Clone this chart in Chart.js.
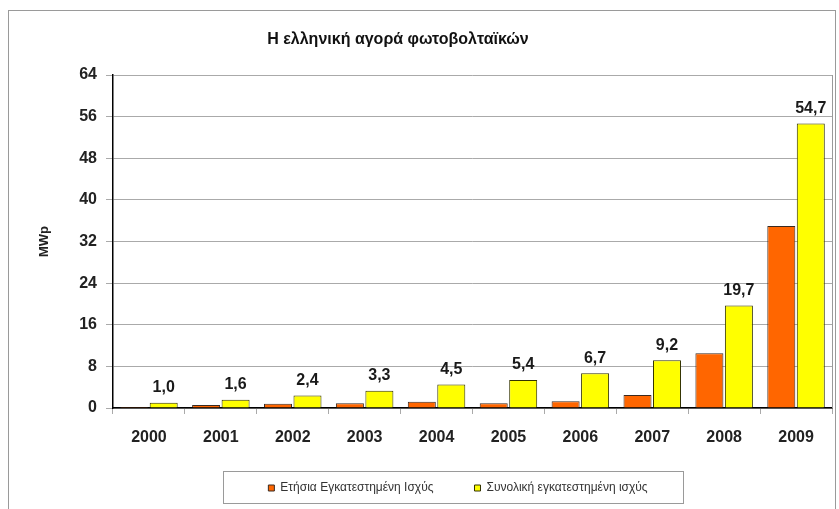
<!DOCTYPE html>
<html>
<head>
<meta charset="utf-8">
<script src="https://cdn.jsdelivr.net/npm/chart.js@4/dist/chart.umd.min.js"></script>
<style>
  html, body { margin: 0; padding: 0; background: #fff; }
  #wrap { width: 839px; height: 509px; position: relative; }
</style>
</head>
<body>
<div id="wrap"><canvas id="pv-chart"></canvas></div>
<script>
var years = ["2000", "2001", "2002", "2003", "2004", "2005", "2006", "2007", "2008", "2009"];
var annual = [0.2, 0.6, 0.8, 0.9, 1.2, 0.9, 1.3, 2.5, 10.5, 35.0];
var cumulative = [1.0, 1.6, 2.4, 3.3, 4.5, 5.4, 6.7, 9.2, 19.7, 54.7];
var yTicks = [0, 8, 16, 24, 32, 40, 48, 56, 64];

var chartTitle = "Η ελληνική αγορά φωτοβολταϊκών";

// frame, title, plot border, value labels, legend box
var decor = {
    id: 'decor',
    afterLayout: function (chart) {
        // legend sits a bit right of centre in the original
        chart.legend.left += 38;
        chart.legend.right += 38;
        chart.legend.top -= 6;
        chart.legend.bottom -= 6;
    },
    beforeDraw: function (chart) {
        var c = chart.ctx;
        c.save();
        c.fillStyle = '#fff';
        c.fillRect(0, 0, chart.width, chart.height);
        c.strokeStyle = '#9a9a9a';
        c.lineWidth = 1;
        c.strokeRect(8.5, 10.5, 827, 520);
        c.restore();
    },
    afterDraw: function (chart) {
        var c = chart.ctx;
        var a = chart.chartArea;
        c.save();
        c.fillStyle = '#111';
        c.font = 'bold 16px "Liberation Sans", Arial, sans-serif';
        c.textAlign = 'center';
        c.textBaseline = 'middle';
        c.fillText(chartTitle, 398, 40);

        c.strokeStyle = '#9a9a9a';
        c.lineWidth = 1;
        c.beginPath();
        c.moveTo(Math.round(a.right) + 0.5, a.top);
        c.lineTo(Math.round(a.right) + 0.5, a.bottom);
        c.stroke();

        var meta = chart.getDatasetMeta(1);
        c.fillStyle = '#1a1a1a';
        c.font = 'bold 16px "Liberation Sans", Arial, sans-serif';
        meta.data.forEach(function (bar, i) {
            var txt = cumulative[i].toFixed(1).replace('.', ',');
            c.fillText(txt, bar.x, bar.y - 15);
        });

        var hb = chart.legend.legendHitBoxes[0];
        var cy = Math.round(hb.top + hb.height / 2);
        c.strokeStyle = '#9a9a9a';
        c.strokeRect(223.5, cy - 16.5, 460, 32);
        c.restore();
    }
};

var ctx = document.getElementById("pv-chart");

var myChart = new Chart(ctx, {
    type: 'bar',
    data: {
        labels: years,
        datasets: [
            {
                label: "Ετήσια Εγκατεστημένη Ισχύς",
                backgroundColor: "#ff6600",
                borderColor: "#3a2a20",
                borderWidth: 1,
                data: annual
            }, {
                label: "Συνολική εγκατεστημένη ισχύς",
                backgroundColor: "#ffff00",
                borderColor: "#333300",
                borderWidth: 1,
                data: cumulative
            }
        ]
    },
    options: {
        responsive: true,
        maintainAspectRatio: false,
        animation: false,
        categoryPercentage: 0.82,
        barPercentage: 0.95,
        layout: { padding: { left: 8, right: 7, top: 75, bottom: -1 } },
        plugins: {
            title: { display: false },
            tooltip: { enabled: false },
            legend: {
                position: 'bottom',
                labels: {
                    boxWidth: 6,
                    boxHeight: 6,
                    padding: 41,
                    color: '#333',
                    font: { family: '"Liberation Sans", Arial, sans-serif', size: 12 }
                }
            }
        },
        scales: {
            x: {
                afterFit: function (axis) { axis.height = 39; },
                grid: {
                    display: true,
                    drawOnChartArea: false,
                    tickLength: 6,
                    color: '#aaa'
                },
                border: { display: true, color: '#000', width: 1.5 },
                ticks: {
                    color: '#222',
                    padding: 14,
                    font: { family: '"Liberation Sans", Arial, sans-serif', size: 16, weight: 'bold' }
                }
            },
            y: {
                min: 0,
                max: 64,
                afterBuildTicks: function (axis) {
                    axis.ticks = yTicks.map(function (v) { return { value: v }; });
                },
                afterFit: function (axis) { axis.width = 105; },
                grid: { color: '#aaa', tickLength: 7 },
                border: { display: true, color: '#000', width: 1.5 },
                ticks: {
                    color: '#222',
                    padding: 9,
                    font: { family: '"Liberation Sans", Arial, sans-serif', size: 16, weight: 'bold' }
                },
                title: {
                    display: true,
                    text: 'MWp',
                    color: '#222',
                    padding: { top: 29, bottom: 0 },
                    font: { family: '"Liberation Sans", Arial, sans-serif', size: 13, weight: 'bold' }
                }
            }
        }
    },
    plugins: [decor]
});
</script>
</body>
</html>
